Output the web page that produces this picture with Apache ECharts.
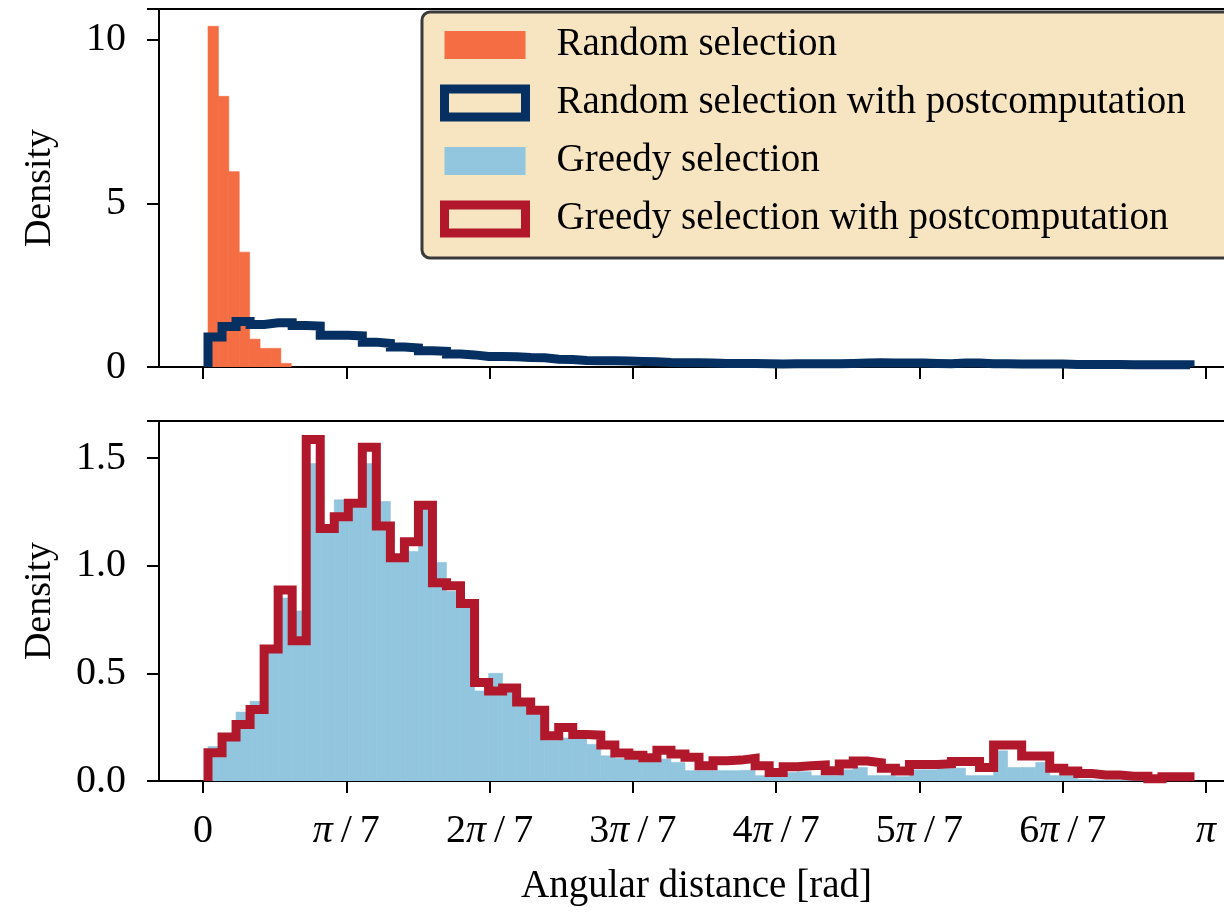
<!DOCTYPE html>
<html>
<head>
<meta charset="utf-8">
<title>Angular distance</title>
<script src="https://cdn.jsdelivr.net/npm/echarts@6/dist/echarts.min.js"></script>
<style>
html,body{margin:0;padding:0;background:#fff;}
#chart{width:1224px;height:914px;}
</style>
</head>
<body>
<div id="chart"></div>
<script>
"use strict";

// 上图：随机选择（直方图，窄分箱）
var randomStart = 0.0157;
var randomBinWidth = 0.0326;
var randomValues = [10.41, 8.27, 5.97, 3.51, 0.85, 0.57, 0.57, 0.11];

// 上图：随机选择 + 后处理（阶梯线），70 个分箱
var postStart = 0.0157;
var postBinWidth = 0.04394;
var randomPostValues = [
    0.92, 1.24, 1.39, 1.30, 1.35, 1.35, 1.27, 1.25, 0.97, 0.97,
    0.95, 0.76, 0.72, 0.61, 0.58, 0.50, 0.48, 0.40, 0.37, 0.32,
    0.32, 0.31, 0.29, 0.28, 0.24, 0.23, 0.20, 0.19, 0.19, 0.18,
    0.17, 0.16, 0.14, 0.13, 0.13, 0.12, 0.11, 0.11, 0.11, 0.10,
    0.09, 0.10, 0.10, 0.10, 0.10, 0.11, 0.12, 0.13, 0.12, 0.12,
    0.12, 0.11, 0.10, 0.12, 0.12, 0.10, 0.10, 0.09, 0.09, 0.09,
    0.09, 0.08, 0.08, 0.08, 0.08, 0.07, 0.07, 0.07, 0.07, 0.07
];

// 下图：贪心选择（直方图）
var greedyValues = [
    0.16, 0.20, 0.32, 0.37, 0.60, 0.85, 0.79, 1.475, 1.16, 1.306,
    1.27, 1.475, 1.298, 1.05, 1.066, 1.27, 1.015, 0.881, 0.82, 0.418,
    0.50, 0.43, 0.36, 0.31, 0.188, 0.20, 0.20, 0.17, 0.117, 0.105,
    0.10, 0.093, 0.102, 0.086, 0.048, 0.048, 0.048, 0.048, 0.05, 0.025,
    0.02, 0.040, 0.043, 0.025, 0.025, 0.052, 0.063, 0.025, 0.025, 0.02,
    0.052, 0.052, 0.059, 0.06, 0.025, 0.025, 0.140, 0.063, 0.063, 0.086,
    0.025, 0.025, 0.008, 0.005, 0.005, 0.004, 0.003, 0.002, 0.002, 0.001
];

// 下图：贪心选择 + 后处理（阶梯线）
var greedyPostValues = [
    0.131, 0.204, 0.262, 0.332, 0.613, 0.887, 0.651, 1.586, 1.173, 1.227,
    1.290, 1.550, 1.184, 1.037, 1.111, 1.281, 0.921, 0.907, 0.824, 0.458,
    0.418, 0.432, 0.367, 0.329, 0.210, 0.248, 0.216, 0.213, 0.167, 0.130,
    0.120, 0.108, 0.143, 0.125, 0.110, 0.071, 0.094, 0.097, 0.105, 0.071,
    0.040, 0.066, 0.071, 0.074, 0.048, 0.079, 0.093, 0.085, 0.059, 0.046,
    0.077, 0.077, 0.080, 0.090, 0.090, 0.063, 0.167, 0.167, 0.116, 0.116,
    0.059, 0.046, 0.035, 0.028, 0.028, 0.022, 0.022, 0.010, 0.020, 0.020
];

// 坐标轴刻度
var xTickValues = [0, 1, 2, 3, 4, 5, 6, 7].map(function(k){ return k * Math.PI / 7; });
var xTickLabels = ['0', 'π/7', '2π/7', '3π/7', '4π/7', '5π/7', '6π/7', 'π'];
var topYTicks = [0, 5, 10];
var bottomYTicks = ['0.0', '0.5', '1.0', '1.5'];

var FONT = "'Liberation Serif', 'Times New Roman', serif";
var LEGEND_BG = '#F7E5C2';
var xMin = -0.1378, xMax = 3.2293;

function binRects(start, width, values){
    return values.map(function(v, i){
        return [start + i * width, start + (i + 1) * width, v];
    });
}

function stepLine(start, width, values){
    var pts = [[start, 0]];
    values.forEach(function(v, i){
        pts.push([start + i * width, v]);
        pts.push([start + (i + 1) * width, v]);
    });
    pts.push([start + values.length * width, 0]);
    return pts;
}

function renderBar(params, api){
    var a = api.coord([api.value(0), api.value(2)]);
    var b = api.coord([api.value(1), 0]);
    var c = api.visual('color');
    return {
        type: 'rect',
        shape: {x: a[0], y: a[1], width: b[0] - a[0], height: b[1] - a[1]},
        style: {fill: c, stroke: c, lineWidth: 0.6}
    };
}

// π 用斜体，斜杠两侧留细空格（模仿 mathtext）
function xLabel(value){
    var k = Math.round(value / (Math.PI / 7));
    return xTickLabels[k].replace('/', '\u2009/\u2009').replace('π', '{i|π}');
}

var axisLineStyle = {color: '#000', width: 2};

function makeXAxis(idx, showLabels){
    return {
        type: 'value', gridIndex: idx, min: xMin, max: xMax,
        axisLine: {show: true, onZero: false, lineStyle: axisLineStyle},
        axisTick: {show: true, inside: false, length: 12, lineStyle: axisLineStyle, customValues: xTickValues},
        axisLabel: {
            show: showLabels, customValues: xTickValues, margin: 30,
            fontFamily: FONT, fontSize: 40, color: '#000',
            formatter: xLabel,
            rich: {i: {fontFamily: FONT, fontSize: 40, fontStyle: 'italic', color: '#000'}}
        },
        splitLine: {show: false},
        name: showLabels ? 'Angular distance [rad]' : '',
        nameLocation: 'middle', nameGap: 86, nameMoveOverlap: false,
        nameTextStyle: {fontFamily: FONT, fontSize: 39, color: '#000'}
    };
}

function makeYAxis(idx, max, interval, fmt){
    return {
        type: 'value', gridIndex: idx, min: 0, max: max, interval: interval,
        axisLine: {show: true, onZero: false, lineStyle: axisLineStyle},
        axisTick: {show: true, length: 12, lineStyle: axisLineStyle},
        axisLabel: {margin: 33, fontFamily: FONT, fontSize: 40, color: '#000', formatter: fmt},
        splitLine: {show: false},
        name: 'Density', nameLocation: 'middle', nameGap: 100, nameMoveOverlap: false,
        nameTextStyle: {fontFamily: FONT, fontSize: 38, color: '#000'}
    };
}

var myChart = echarts.init(document.getElementById('chart'), null, {renderer: 'canvas'});

var option = {
    animation: false,
    backgroundColor: '#fff',
    grid: [
        {left: 159, right: -10, top: 9, height: 358, show: true, borderColor: '#000', borderWidth: 2,
            outerBoundsMode: 'none', containLabel: false},
        {left: 159, right: -10, top: 421, height: 360, show: true, borderColor: '#000', borderWidth: 2,
            outerBoundsMode: 'none', containLabel: false}
    ],
    xAxis: [makeXAxis(0, false), makeXAxis(1, true)],
    yAxis: [
        makeYAxis(0, 10.94, 5, function(v){ return topYTicks.indexOf(v) >= 0 ? String(v) : ''; }),
        makeYAxis(1, 1.672, 0.5, function(v){ var s = v.toFixed(1); return bottomYTicks.indexOf(s) >= 0 ? s : ''; })
    ],
    legend: {
        left: 422, top: 12, orient: 'vertical',
        backgroundColor: LEGEND_BG, borderColor: '#3a3a3a', borderWidth: 3, borderRadius: 8,
        padding: [13, 60, 19, 18],
        itemWidth: 81, itemHeight: 28, itemGap: 18,
        selectedMode: false,
        textStyle: {fontFamily: FONT, fontSize: 39, lineHeight: 40, color: '#000', padding: [0, 0, 0, 26]},
        data: [
            {name: 'Random selection', icon: 'rect', itemStyle: {color: '#F46D43', borderWidth: 0}},
            {name: 'Random selection with postcomputation', icon: 'rect',
                itemStyle: {color: LEGEND_BG, borderColor: '#053061', borderWidth: 9}},
            {name: 'Greedy selection', icon: 'rect', itemStyle: {color: '#92C5DE', borderWidth: 0}},
            {name: 'Greedy selection with postcomputation', icon: 'rect',
                itemStyle: {color: LEGEND_BG, borderColor: '#B2182B', borderWidth: 9}}
        ]
    },
    series: [
        {
            name: 'Random selection', type: 'custom', xAxisIndex: 0, yAxisIndex: 0,
            renderItem: renderBar, clip: true,
            itemStyle: {color: '#F46D43'},
            encode: {x: [0, 1], y: 2},
            data: binRects(randomStart, randomBinWidth, randomValues)
        },
        {
            name: 'Random selection with postcomputation', type: 'line', xAxisIndex: 0, yAxisIndex: 0,
            symbol: 'none', clip: true,
            itemStyle: {color: '#053061'},
            lineStyle: {color: '#053061', width: 9, join: 'miter', cap: 'butt'},
            data: stepLine(postStart, postBinWidth, randomPostValues)
        },
        {
            name: 'Greedy selection', type: 'custom', xAxisIndex: 1, yAxisIndex: 1,
            renderItem: renderBar, clip: true,
            itemStyle: {color: '#92C5DE'},
            encode: {x: [0, 1], y: 2},
            data: binRects(postStart, postBinWidth, greedyValues)
        },
        {
            name: 'Greedy selection with postcomputation', type: 'line', xAxisIndex: 1, yAxisIndex: 1,
            symbol: 'none', clip: true,
            itemStyle: {color: '#B2182B'},
            lineStyle: {color: '#B2182B', width: 9, join: 'miter', cap: 'butt'},
            data: stepLine(postStart, postBinWidth, greedyPostValues)
        }
    ]
};

myChart.setOption(option, true);
</script>
</body>
</html>
